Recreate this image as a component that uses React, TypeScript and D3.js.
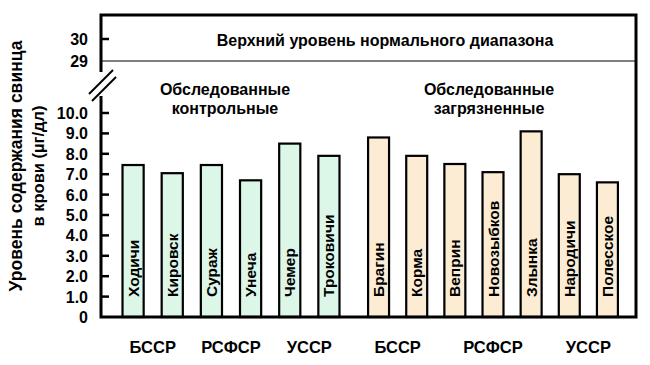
import React from "react";
import * as d3 from "d3";

const controlTowns = ["Ходичи", "Кировск", "Сураж", "Унеча", "Чемер", "Троковичи"];
const controlValues = [7.45, 7.05, 7.45, 6.7, 8.5, 7.9];
const contamTowns = ["Брагин", "Корма", "Веприн", "Новозыбков", "Злынка", "Народичи", "Полесское"];
const contamValues = [8.8, 7.9, 7.5, 7.1, 9.1, 7.0, 6.6];
const lowerTicks = [0, 1, 2, 3, 4, 5, 6, 7, 8, 9, 10];
const upperTicks = [29, 30];
const controlRegions = [
  { name: "БССР", towns: ["Ходичи", "Кировск"] },
  { name: "РСФСР", towns: ["Сураж", "Унеча"] },
  { name: "УССР", towns: ["Чемер", "Троковичи"] },
];
const contamRegions = [
  { name: "БССР", towns: ["Брагин", "Корма"] },
  { name: "РСФСР", towns: ["Веприн", "Новозыбков", "Злынка"] },
  { name: "УССР", towns: ["Народичи", "Полесское"] },
];

const FONT = "'Liberation Sans', Arial, sans-serif";
const GREEN = "#dcf6e8";
const ORANGE = "#fdecd4";

export default function App() {
  const left = 101, right = 636, top = 15, bottom = 317;
  const yLow = d3.scaleLinear().domain([0, 10]).range([bottom, 113]);
  const yHigh = d3.scaleLinear().domain([29, 30]).range([61, 39]);
  const xCtrl = d3.scaleBand<string>().domain(controlTowns).range([113.5, 348.5]).paddingInner(0.46).paddingOuter(0.23);
  const xCont = d3.scaleBand<string>().domain(contamTowns).range([359.5, 626.5]).paddingInner(0.45).paddingOuter(0.225);

  const bars = (towns: string[], vals: number[], x: d3.ScaleBand<string>, fill: string) =>
    towns.map((t, i) => {
      const x0 = x(t)!;
      const w = x.bandwidth();
      const yt = yLow(vals[i]);
      return (
        <g key={t}>
          <rect x={x0} y={yt} width={w} height={bottom - yt} fill={fill} stroke="#000" strokeWidth={2.2} />
          <text
            transform={`translate(${x0 + w / 2 + 5.5},${bottom - 20}) rotate(-90)`}
            fontSize={15.5}
            fontWeight="bold"
            fontFamily={FONT}
          >
            {t}
          </text>
        </g>
      );
    });

  const regionLabels = (regs: { name: string; towns: string[] }[], x: d3.ScaleBand<string>) =>
    regs.map((r, i) => {
      const xs = r.towns.map((t) => x(t)! + x.bandwidth() / 2);
      const cx = (d3.min(xs)! + d3.max(xs)!) / 2;
      return (
        <text key={r.name + i} x={cx} y={353} textAnchor="middle" fontSize={16.5} fontWeight="bold" fontFamily={FONT}>
          {r.name}
        </text>
      );
    });

  return (
    <svg width={650} height={365} style={{ position: "absolute", left: 0, top: 0, background: "#fff" }}>
      <rect x={0} y={0} width={650} height={365} fill="#fff" />
      <line x1={left} x2={right} y1={yHigh(29)} y2={yHigh(29)} stroke="#000" strokeWidth={1} />
      <text x={385} y={yHigh(30) + 7} textAnchor="middle" fontSize={16} fontWeight="bold" fontFamily={FONT}>
        Верхний уровень нормального диапазона
      </text>
      {bars(controlTowns, controlValues, xCtrl, GREEN)}
      {bars(contamTowns, contamValues, xCont, ORANGE)}
      <path d={`M${left},${72}V${top}H${right}V${bottom}H${left}V${96}`} fill="none" stroke="#000" strokeWidth={3} />
      <line x1={89} y1={94} x2={113} y2={70} stroke="#000" strokeWidth={2} />
      <line x1={92} y1={101} x2={116} y2={77} stroke="#000" strokeWidth={2} />
      {lowerTicks.map((t) => (
        <g key={"l" + t}>
          {t > 0 && <line x1={left} x2={left + 8} y1={yLow(t)} y2={yLow(t)} stroke="#000" strokeWidth={2.5} />}
          <text x={88} y={yLow(t) + 6} textAnchor="end" fontSize={16} fontWeight="bold" fontFamily={FONT}>
            {t === 0 ? "0" : t.toFixed(1)}
          </text>
        </g>
      ))}
      {upperTicks.map((t) => (
        <g key={"u" + t}>
          {t === 30 && <line x1={left} x2={left + 8} y1={yHigh(t)} y2={yHigh(t)} stroke="#000" strokeWidth={2.5} />}
          <text x={88} y={yHigh(t) + 6} textAnchor="end" fontSize={16} fontWeight="bold" fontFamily={FONT}>
            {t}
          </text>
        </g>
      ))}
      <text x={225} y={95} textAnchor="middle" fontSize={16} fontWeight="bold" fontFamily={FONT}>Обследованные</text>
      <text x={225} y={114} textAnchor="middle" fontSize={16} fontWeight="bold" fontFamily={FONT}>контрольные</text>
      <text x={489} y={95} textAnchor="middle" fontSize={16} fontWeight="bold" fontFamily={FONT}>Обследованные</text>
      <text x={489} y={114} textAnchor="middle" fontSize={16} fontWeight="bold" fontFamily={FONT}>загрязненные</text>
      {regionLabels(controlRegions, xCtrl)}
      {regionLabels(contamRegions, xCont)}
      <text transform="translate(22,166) rotate(-90)" textAnchor="middle" fontSize={17.5} fontWeight="bold" fontFamily={FONT}>
        Уровень содержания свинца
      </text>
      <text transform="translate(44,166) rotate(-90)" textAnchor="middle" fontSize={16.5} fontWeight="bold" fontFamily={FONT}>
        в крови (µг/дл)
      </text>
    </svg>
  );
}
